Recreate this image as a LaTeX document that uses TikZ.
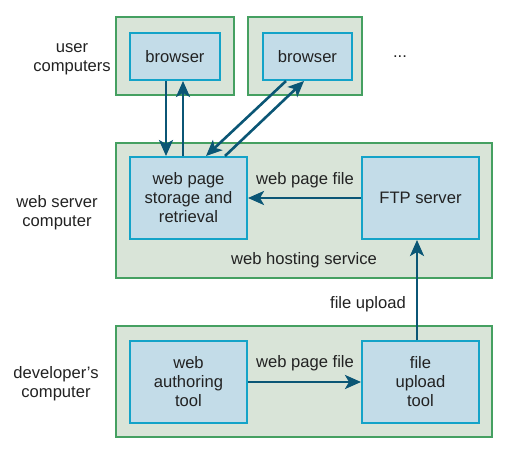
\documentclass[tikz,border=0pt]{standalone}
\usepackage{fontspec}
\setmainfont{Liberation Sans}
\usetikzlibrary{arrows.meta,calc}
\definecolor{outerfill}{HTML}{D9E4D8}
\definecolor{outerline}{HTML}{45A061}
\definecolor{innerfill}{HTML}{C3DCE8}
\definecolor{innerline}{HTML}{14A3C8}
\definecolor{arrowc}{HTML}{0B5675}
\definecolor{textc}{HTML}{222222}
\begin{document}
\begin{tikzpicture}[x=1pt,y=-1pt,
  every node/.style={text=textc,font=\fontsize{16.6}{19}\selectfont},
  outerbox/.style={draw=outerline,fill=outerfill,line width=2pt,inner sep=0pt},
  innerbox/.style={draw=innerline,fill=innerfill,line width=2pt,inner sep=0pt,align=center},
  conn/.style={draw=arrowc,line width=2.6pt,-{Stealth[length=16pt,width=14pt,inset=4pt]}},
  lbl/.style={align=center,inner sep=0pt}]
\useasboundingbox (0,0) rectangle (519,452);
% outer boxes
\node[outerbox,minimum width=118pt,minimum height=78pt] (u1) at (175,56) {};
\node[outerbox,minimum width=114pt,minimum height=78pt] (u2) at (305,56) {};
\node[outerbox,minimum width=376pt,minimum height=135pt] (ws) at (304,210.5) {};
\node[outerbox,minimum width=376pt,minimum height=111pt] (dc) at (304,381.5) {};
% inner boxes
\node[innerbox,minimum width=90pt,minimum height=47pt] (b1) at (175,56.5) {browser};
\node[innerbox,minimum width=89pt,minimum height=47pt] (b2) at (307.5,56.5) {browser};
\node[innerbox,minimum width=117pt,minimum height=82pt] (st) at (188.5,198) {web page\\storage and\\retrieval};
\node[innerbox,minimum width=117pt,minimum height=82pt] (ftp) at (420.5,198) {FTP server};
\node[innerbox,minimum width=117pt,minimum height=82pt] (wa) at (188.5,382) {web\\authoring\\tool};
\node[innerbox,minimum width=117pt,minimum height=82pt] (fu) at (420.5,382) {file\\upload\\tool};
% labels
\node[lbl] (l1) at (72,59) {user\\computers};
\node[lbl] (l2) at (57,212.5) {web server\\computer};
\node[lbl] (l3) at (56,384) {developer’s\\computer};
\node[lbl] (dots) at (400,57) {...};
\node[lbl] (whs) at (304,260) {web hosting service};
\node[lbl] (wpf1) at (305,180) {web page file};
\node[lbl] (wpf2) at (305,363) {web page file};
\node[lbl] (fup) at (368,304.5) {file upload};
% connectors
\draw[conn] ($(b1.south west)+(37,0)$) -- ($(st.north west)+(37,0)$);
\draw[conn] ($(st.north west)+(54,0)$) -- ($(b1.south west)+(54,0)$);
\draw[conn] ($(b2.south west)+(24,0)$) -- ($(st.north west)+(77,0)$);
\draw[conn] ($(st.north west)+(96,0)$) -- ($(b2.south west)+(42,0)$);
\draw[conn] (ftp.west) -- (st.east);
\draw[conn] (wa.east) -- (fu.west);
\draw[conn] ($(fu.north west)+(56,0)$) -- ($(ftp.south west)+(56,0)$);
\end{tikzpicture}
\end{document}
